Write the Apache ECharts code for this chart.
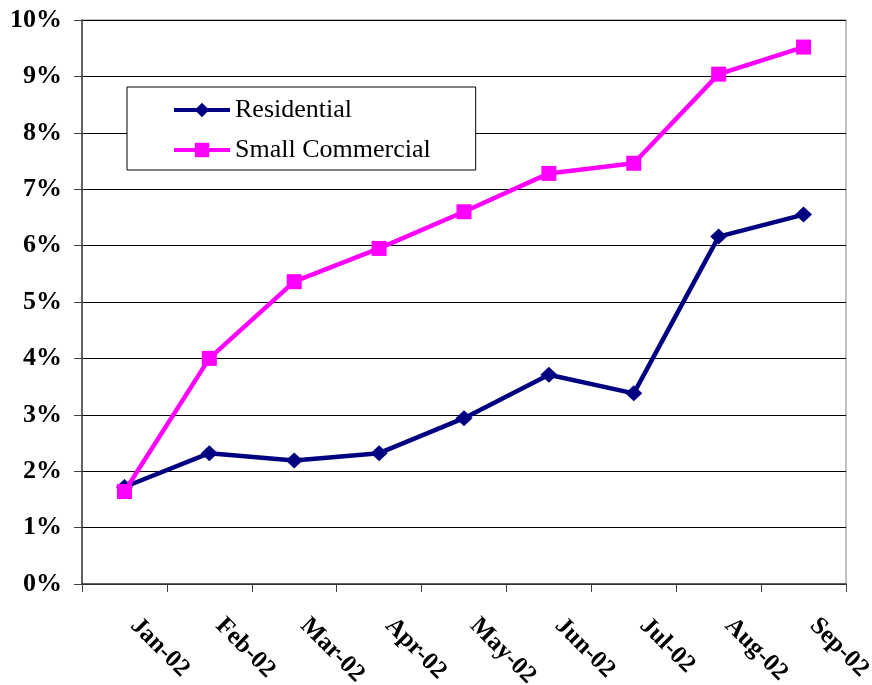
<!DOCTYPE html>
<html>
<head>
<meta charset="utf-8">
<script src="https://cdn.jsdelivr.net/npm/echarts@6/dist/echarts.min.js"></script>
<style>
html,body{margin:0;padding:0;background:#fff;}
#chart{width:872px;height:685px;}
</style>
</head>
<body>
<div id="chart"></div>
<script>
var categories = ['Jan-02','Feb-02','Mar-02','Apr-02','May-02','Jun-02','Jul-02','Aug-02','Sep-02'];
var residential = [1.72, 2.32, 2.19, 2.32, 2.94, 3.71, 3.38, 6.16, 6.55];
var smallCommercial = [1.64, 4.00, 5.36, 5.95, 6.60, 7.28, 7.46, 9.04, 9.52];
var yTicks = [0,1,2,3,4,5,6,7,8,9,10];

var serif = '"Liberation Serif","DejaVu Serif",serif';
var chart = echarts.init(document.getElementById('chart'));
chart.setOption({
  animation: false,
  backgroundColor: '#fff',
  grid: {left: 82, top: 20, right: 26, bottom: 101, show: true, borderColor: '#808080', borderWidth: 1,
         containLabel: false, outerBoundsMode: 'none'},
  legend: {
    left: 127, top: 87, orient: 'vertical',
    backgroundColor: '#fff', borderColor: '#000', borderWidth: 1,
    padding: [9, 45, 6, 45], itemGap: 12,
    itemWidth: 56, itemHeight: 18,
    lineStyle: {width: 4},
    textStyle: {fontFamily: serif, fontSize: 26, lineHeight: 28, color: '#000'},
    data: ['Residential', 'Small Commercial']
  },
  xAxis: {
    type: 'category', data: categories, boundaryGap: true,
    axisLine: {lineStyle: {color: '#404040', width: 1.5}},
    axisTick: {show: true, length: 8, lineStyle: {color: '#404040'}},
    axisLabel: {rotate: -45, margin: 28, padding: [0, 0, 0, 14], fontFamily: serif, fontSize: 25, fontWeight: 'bold', color: '#000', interval: 0}
  },
  yAxis: {
    type: 'value', min: yTicks[0], max: yTicks[yTicks.length-1], interval: 1,
    axisLine: {show: true, lineStyle: {color: '#404040', width: 1.5}},
    axisTick: {show: true, length: 8, lineStyle: {color: '#404040'}},
    splitLine: {lineStyle: {color: '#000', width: 1}},
    axisLabel: {margin: 20, fontFamily: serif, fontSize: 26, fontWeight: 'bold', color: '#000',
      formatter: function(v){ return v + '%'; }}
  },
  series: [
    {name: 'Residential', type: 'line', data: residential,
     symbol: 'diamond', symbolSize: [17, 16],
     lineStyle: {color: '#000080', width: 4.5}, itemStyle: {color: '#000080'}, z: 2},
    {name: 'Small Commercial', type: 'line', data: smallCommercial,
     symbol: 'rect', symbolSize: 15,
     lineStyle: {color: '#FF00FF', width: 4.5}, itemStyle: {color: '#FF00FF'}, z: 3}
  ]
});
</script>
</body>
</html>
